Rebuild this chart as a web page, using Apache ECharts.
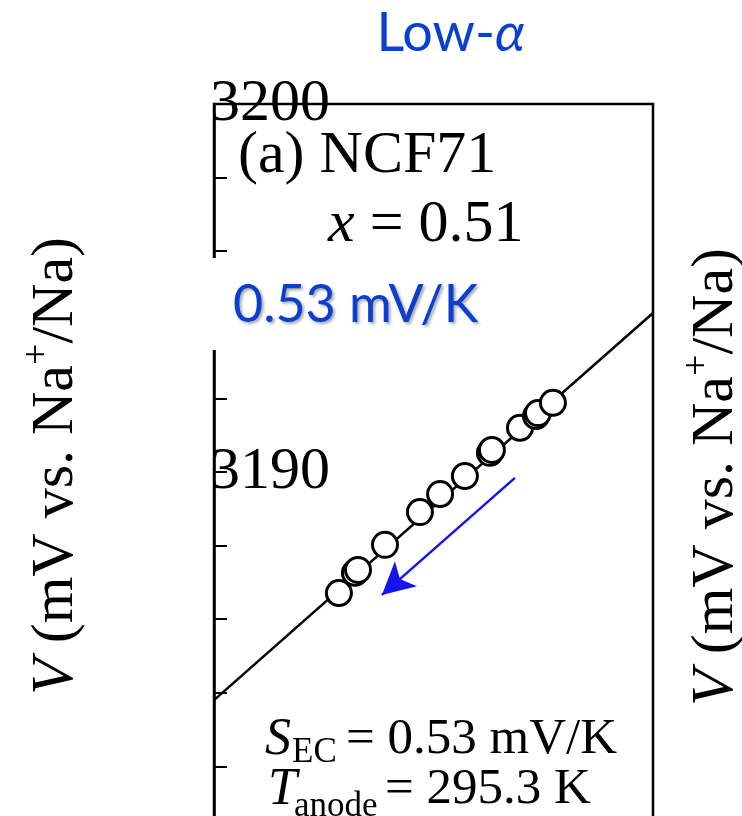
<!DOCTYPE html>
<html><head><meta charset="utf-8">
<script src="https://cdn.jsdelivr.net/npm/echarts@6/dist/echarts.min.js"></script>
<style>html,body{margin:0;padding:0;background:#fff}#c{width:742px;height:816px}</style>
</head><body><div id="c"></div>
<script>
// Data
const tempK   = [285.69, 286.42, 286.56, 287.79, 289.38, 290.30, 291.43, 292.57, 292.66, 293.94, 294.67, 294.76, 295.44];
const voltage = [3186.71, 3187.26, 3187.34, 3188.02, 3188.91, 3189.40, 3189.89, 3190.52, 3190.60, 3191.20, 3191.52, 3191.60, 3191.88];
const fitT = [280, 300];
const fitV = [3183.80, 3194.32];
const arrowT = [293.71, 287.65];
const arrowV = [3189.84, 3186.66];
const yMin = 3180, yMax = 3200, yStep = 2, yLabelStep = 10;

const SERIF = '"Liberation Serif", "Times New Roman", serif';
const SANS = 'Lato, "Open Sans", sans-serif';
const BLUE = '#0a3fcf';

const chart = echarts.init(document.getElementById('c'), null, {renderer: 'canvas'});
const points = tempK.map((t, i) => [t, voltage[i]]);
const fit = fitT.map((t, i) => [t, fitV[i]]);

const axisName = {
  text: '{i|V}{n| (mV vs. Na}{s|+}{n|/Na)}',
  rich: {
    i: {fontFamily: SERIF, fontSize: 60, fontStyle: 'italic', fill: '#000', lineHeight: 74},
    n: {fontFamily: SERIF, fontSize: 60, fill: '#000', lineHeight: 74},
    s: {fontFamily: SERIF, fontSize: 38, fill: '#000', lineHeight: 74, verticalAlign: 'top'}
  },
  align: 'center', verticalAlign: 'middle'
};

chart.setOption({
  animation: false,
  backgroundColor: '#fff',
  grid: {left: 214, right: 89, top: 104, bottom: -24, containLabel: false, outerBoundsMode: 'none',
         show: true, borderColor: '#000', borderWidth: 2.5, backgroundColor: 'transparent'},
  xAxis: {type: 'value', min: 280, max: 300, show: false},
  yAxis: {
    type: 'value', min: yMin, max: yMax, interval: yStep,
    axisLine: {show: true, lineStyle: {color: '#000', width: 2.5}},
    axisTick: {show: true, inside: true, length: 13, lineStyle: {color: '#000', width: 2}},
    splitLine: {show: false},
    axisLabel: {
      inside: true, margin: -4, align: 'left', hideOverlap: false,
      fontFamily: SERIF, fontSize: 60, color: '#000',
      formatter: v => (Math.round(v) % yLabelStep === 0 ? String(Math.round(v)) : '')
    }
  },
  series: [
    {
      type: 'line', data: fit, symbol: 'none', silent: true, z: 2,
      lineStyle: {color: '#000', width: 2.5},
      markLine: {
        silent: true, symbol: ['none', 'arrow'], symbolSize: [25, 32],
        label: {show: false},
        lineStyle: {color: '#1414f0', width: 2.5, type: 'solid'},
        data: [[{coord: [arrowT[0], arrowV[0]]}, {coord: [arrowT[1], arrowV[1]]}]]
      }
    },
    {
      type: 'scatter', data: points, symbol: 'circle', symbolSize: 25, z: 3,
      itemStyle: {color: '#fff', borderColor: '#000', borderWidth: 3, opacity: 1}
    }
  ],
  graphic: [
    {type: 'rect', shape: {x: 208, y: 258, width: 290, height: 92}, style: {fill: '#fff'}, z: 50},
    {type: 'text', x: 233, y: 305, z: 51, style: {
      text: '0.53 mV/K', fontFamily: SANS, fontSize: 52, fill: BLUE,
      textShadowColor: 'rgba(0,0,0,0.35)', textShadowBlur: 3, textShadowOffsetX: 2, textShadowOffsetY: 2,
      align: 'left', verticalAlign: 'middle'}},
    {type: 'text', x: 525, y: 34, z: 51, style: {
      text: '{n|Low-}{a|α}', fill: BLUE,
      rich: {
        n: {fontFamily: SANS, fontSize: 54, fill: BLUE},
        a: {fontFamily: SANS, fontSize: 54, fontStyle: 'italic', fill: BLUE}
      },
      align: 'right', verticalAlign: 'middle'}},
    {type: 'text', x: 238, y: 156, z: 51, style: {
      text: '(a) NCF71', fontFamily: SERIF, fontSize: 60, fill: '#000', align: 'left', verticalAlign: 'middle'}},
    {type: 'text', x: 328, y: 225, z: 51, style: {
      text: '{i|x}{n| = 0.51}', fill: '#000',
      rich: {
        i: {fontFamily: SERIF, fontSize: 60, fontStyle: 'italic', fill: '#000'},
        n: {fontFamily: SERIF, fontSize: 60, fill: '#000'}
      },
      align: 'left', verticalAlign: 'middle'}},
    // S_EC line
    {type: 'text', x: 265, y: 740, z: 51, style: {text: 'S', fontFamily: SERIF, fontSize: 52, fontStyle: 'italic', fill: '#000', align: 'left', verticalAlign: 'middle'}},
    {type: 'text', x: 292, y: 753, z: 51, style: {text: 'EC', fontFamily: SERIF, fontSize: 35, fill: '#000', align: 'left', verticalAlign: 'middle'}},
    {type: 'text', x: 346, y: 740, z: 51, style: {text: '= 0.53 mV/K', fontFamily: SERIF, fontSize: 51, fill: '#000', align: 'left', verticalAlign: 'middle'}},
    // T_anode line
    {type: 'text', x: 268, y: 790, z: 51, style: {text: 'T', fontFamily: SERIF, fontSize: 52, fontStyle: 'italic', fill: '#000', align: 'left', verticalAlign: 'middle'}},
    {type: 'text', x: 294, y: 807, z: 51, style: {text: 'anode', fontFamily: SERIF, fontSize: 35, fill: '#000', align: 'left', verticalAlign: 'middle'}},
    {type: 'text', x: 385, y: 790, z: 51, style: {text: '= 295.3 K', fontFamily: SERIF, fontSize: 51, fill: '#000', align: 'left', verticalAlign: 'middle'}},
    // axis names
    {type: 'text', x: 56, y: 466, rotation: Math.PI / 2, z: 51, style: axisName},
    {type: 'text', x: 716, y: 477, rotation: Math.PI / 2, z: 51, style: axisName}
  ]
});
</script></body></html>
